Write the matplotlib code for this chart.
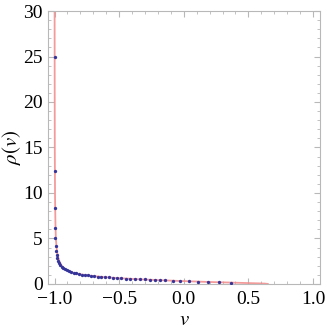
import matplotlib
matplotlib.use("Agg")
import matplotlib.pyplot as plt
from matplotlib.ticker import MultipleLocator

# continuous density (red curve)
curve_v = [-0.9996, -0.999, -0.998, -0.996, -0.993, -0.99, -0.985, -0.98, -0.97,
           -0.96, -0.945, -0.93, -0.91, -0.89, -0.86, -0.83, -0.8, -0.75, -0.7,
           -0.65, -0.6, -0.55, -0.5, -0.45, -0.4, -0.35, -0.3, -0.25, -0.2, -0.15,
           -0.1, -0.05, 0.0, 0.05, 0.1, 0.15, 0.2, 0.25, 0.3, 0.35, 0.4, 0.45,
           0.5, 0.55, 0.6, 0.63, 0.65]
curve_rho = [34.0, 24.0, 15.0, 9.5, 6.6, 5.1, 4.1, 3.5, 2.8,
             2.4, 2.0, 1.75, 1.55, 1.4, 1.25, 1.15, 1.06, 0.95, 0.86,
             0.79, 0.73, 0.68, 0.63, 0.59, 0.55, 0.51, 0.48, 0.45, 0.42, 0.39,
             0.36, 0.33, 0.31, 0.28, 0.26, 0.23, 0.21, 0.19, 0.17, 0.15, 0.13, 0.11,
             0.09, 0.07, 0.05, 0.03, 0.0]

# sampled points (blue dots)
dot_v = [-0.9985, -0.9975, -0.9962, -0.9948, -0.993, -0.9905, -0.987, -0.983,
         -0.978, -0.972, -0.965, -0.956, -0.946, -0.934, -0.921, -0.906, -0.890,
         -0.872, -0.853, -0.833, -0.812, -0.790, -0.767, -0.743, -0.718, -0.692,
         -0.665, -0.637, -0.608, -0.578, -0.547, -0.515, -0.482, -0.448, -0.413,
         -0.377, -0.340, -0.302, -0.263, -0.223, -0.183, -0.143, -0.084, -0.027,
         0.037, 0.107, 0.184, 0.269, 0.368]
dot_rho = [25.0, 12.4, 8.3, 6.2, 5.0, 4.2, 3.6, 3.15, 2.8, 2.5, 2.25, 2.05,
           1.88, 1.73, 1.6, 1.49, 1.39, 1.3, 1.22, 1.15, 1.09, 1.03, 0.98,
           0.93, 0.89, 0.85, 0.81, 0.77, 0.74, 0.71, 0.68, 0.65, 0.62, 0.59,
           0.56, 0.54, 0.51, 0.49, 0.46, 0.43, 0.41, 0.38, 0.35, 0.32, 0.29,
           0.26, 0.22, 0.19, 0.15]

x_ticks = [-1.0, -0.5, 0.0, 0.5, 1.0]
x_labels = ["\u22121.0", "\u22120.5", "0.0", "0.5", "1.0"]
y_ticks = [0, 5, 10, 15, 20, 25, 30]

plt.rcParams["font.family"] = ["Liberation Serif", "DejaVu Serif"]
plt.rcParams["mathtext.fontset"] = "stix"

fig = plt.figure(figsize=(3.27, 3.34), dpi=100)
ax = fig.add_axes([0.147, 0.150, 0.832, 0.817])

ax.plot(curve_v, curve_rho, color="#f28a8a", lw=1.3, alpha=0.85, zorder=2)
ax.plot(dot_v, dot_rho, "o", color="#34349a", ms=2.4, mew=0, zorder=3)

ax.set_xlim(-1.05, 1.055)
ax.set_ylim(0, 30)

ax.set_xticks(x_ticks)
ax.set_xticklabels(x_labels)
ax.set_yticks(y_ticks)
ax.xaxis.set_minor_locator(MultipleLocator(0.1))
ax.yaxis.set_minor_locator(MultipleLocator(1))

frame_col = "#b8b8b8"
for sp in ax.spines.values():
    sp.set_color(frame_col)
    sp.set_linewidth(0.8)
ax.tick_params(which="both", direction="in", color=frame_col, top=True, right=True,
               labeltop=False, labelright=False)
ax.tick_params(which="major", length=4, width=0.8, labelsize=14)
ax.tick_params(axis="x", which="major", pad=5)
ax.tick_params(axis="y", which="major", pad=4)
ax.tick_params(which="minor", length=2, width=0.6)

ax.set_xlabel(r"$v$", fontsize=15, labelpad=2)
ax.set_ylabel(r"$\rho(v)$", fontsize=15, labelpad=0)

fig.savefig("out.png", dpi=100)
